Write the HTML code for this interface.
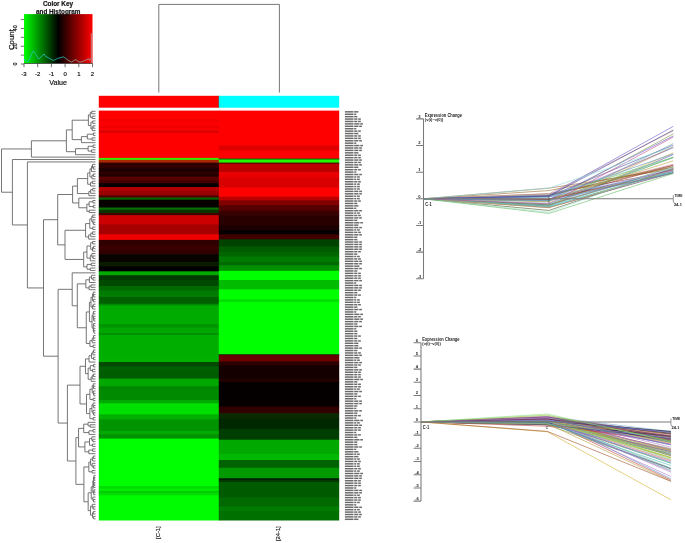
<!DOCTYPE html><html><head><meta charset="utf-8"><style>html,body{margin:0;padding:0;background:#fff;}svg{display:block;filter:blur(0.4px);}</style></head><body><svg width="685" height="543" viewBox="0 0 685 543">
<rect width="685" height="543" fill="#fff"/>
<rect x="98.8" y="95.8" width="120.4" height="11.9" fill="#ff0000"/>
<rect x="218.8" y="95.8" width="120.4" height="11.9" fill="#00ffff"/>
<rect x="218.4" y="95.8" width="0.7" height="11.9" fill="#555" opacity="0.6"/>
<rect x="98.8" y="110.6" width="120.60" height="9.10" fill="#ff0000"/>
<rect x="98.8" y="119" width="120.60" height="2.70" fill="#f20000"/>
<rect x="98.8" y="121" width="120.60" height="5.70" fill="#fb0000"/>
<rect x="98.8" y="126" width="120.60" height="2.70" fill="#ee0000"/>
<rect x="98.8" y="128" width="120.60" height="2.70" fill="#fa0000"/>
<rect x="98.8" y="130.1" width="120.60" height="3.40" fill="#dd0000"/>
<rect x="98.8" y="132.8" width="120.60" height="25.80" fill="#ff0000"/>
<rect x="98.8" y="157.9" width="120.60" height="2.70" fill="#3ce800"/>
<rect x="98.8" y="159.9" width="120.60" height="3.40" fill="#aa2800"/>
<rect x="98.8" y="162.6" width="120.60" height="6.40" fill="#300000"/>
<rect x="98.8" y="168.3" width="120.60" height="4.00" fill="#1a0000"/>
<rect x="98.8" y="171.6" width="120.60" height="2.90" fill="#300000"/>
<rect x="98.8" y="173.8" width="120.60" height="3.50" fill="#200000"/>
<rect x="98.8" y="176.6" width="120.60" height="4.10" fill="#5a0000"/>
<rect x="98.8" y="180" width="120.60" height="3.90" fill="#440000"/>
<rect x="98.8" y="183.2" width="120.60" height="4.50" fill="#070000"/>
<rect x="98.8" y="187" width="120.60" height="4.70" fill="#b00000"/>
<rect x="98.8" y="191" width="120.60" height="5.00" fill="#990000"/>
<rect x="98.8" y="195.3" width="120.60" height="2.90" fill="#500000"/>
<rect x="98.8" y="197.5" width="120.60" height="2.90" fill="#0a6400"/>
<rect x="98.8" y="199.7" width="120.60" height="8.50" fill="#060000"/>
<rect x="98.8" y="207.5" width="120.60" height="2.90" fill="#087000"/>
<rect x="98.8" y="209.7" width="120.60" height="4.00" fill="#0a3300"/>
<rect x="98.8" y="213" width="120.60" height="2.90" fill="#400000"/>
<rect x="98.8" y="215.2" width="120.60" height="9.90" fill="#cc0000"/>
<rect x="98.8" y="224.4" width="120.60" height="10.60" fill="#a60000"/>
<rect x="98.8" y="234.3" width="120.60" height="6.30" fill="#ee0000"/>
<rect x="98.8" y="239.9" width="120.60" height="6.80" fill="#300000"/>
<rect x="98.8" y="246" width="120.60" height="4.70" fill="#3a0000"/>
<rect x="98.8" y="250" width="120.60" height="4.90" fill="#300000"/>
<rect x="98.8" y="254.2" width="120.60" height="8.50" fill="#070400"/>
<rect x="98.8" y="262" width="120.60" height="5.10" fill="#0a1c00"/>
<rect x="98.8" y="266.4" width="120.60" height="5.60" fill="#000000"/>
<rect x="98.8" y="271.3" width="120.60" height="4.60" fill="#00a800"/>
<rect x="98.8" y="275.2" width="120.60" height="5.50" fill="#003a00"/>
<rect x="98.8" y="280" width="120.60" height="6.70" fill="#004a00"/>
<rect x="98.8" y="286" width="120.60" height="5.20" fill="#006a00"/>
<rect x="98.8" y="290.5" width="120.60" height="5.70" fill="#007a00"/>
<rect x="98.8" y="295.5" width="120.60" height="1.80" fill="#008c00"/>
<rect x="98.8" y="296.6" width="120.60" height="7.80" fill="#006000"/>
<rect x="98.8" y="303.7" width="120.60" height="2.40" fill="#008800"/>
<rect x="98.8" y="305.4" width="120.60" height="19.30" fill="#00ab00"/>
<rect x="98.8" y="324" width="120.60" height="4.20" fill="#009400"/>
<rect x="98.8" y="327.5" width="120.60" height="6.20" fill="#00a600"/>
<rect x="98.8" y="333" width="120.60" height="2.70" fill="#009000"/>
<rect x="98.8" y="335" width="120.60" height="19.40" fill="#00ae00"/>
<rect x="98.8" y="353.7" width="120.60" height="9.00" fill="#00b000"/>
<rect x="98.8" y="362" width="120.60" height="5.20" fill="#004a00"/>
<rect x="98.8" y="366.5" width="120.60" height="3.40" fill="#006000"/>
<rect x="98.8" y="369.2" width="120.60" height="10.10" fill="#005c00"/>
<rect x="98.8" y="378.6" width="120.60" height="8.50" fill="#00a800"/>
<rect x="98.8" y="386.4" width="120.60" height="2.90" fill="#008400"/>
<rect x="98.8" y="388.6" width="120.60" height="12.10" fill="#008a00"/>
<rect x="98.8" y="400" width="120.60" height="4.00" fill="#00aa00"/>
<rect x="98.8" y="403.3" width="120.60" height="11.70" fill="#00e000"/>
<rect x="98.8" y="414.3" width="120.60" height="5.70" fill="#00b000"/>
<rect x="98.8" y="419.3" width="120.60" height="12.40" fill="#009400"/>
<rect x="98.8" y="431" width="120.60" height="3.90" fill="#00aa00"/>
<rect x="98.8" y="434.2" width="120.60" height="5.10" fill="#009200"/>
<rect x="98.8" y="438.6" width="120.60" height="48.10" fill="#00ff00"/>
<rect x="98.8" y="486" width="120.60" height="3.40" fill="#00dd00"/>
<rect x="98.8" y="488.7" width="120.60" height="2.90" fill="#00ee00"/>
<rect x="98.8" y="490.9" width="120.60" height="2.90" fill="#00cc00"/>
<rect x="98.8" y="493.1" width="120.60" height="2.90" fill="#00dd00"/>
<rect x="98.8" y="495.3" width="120.60" height="25.20" fill="#00fc00"/>
<rect x="218.8" y="110.6" width="120.40" height="35.60" fill="#ff0000"/>
<rect x="218.8" y="145.5" width="120.40" height="5.70" fill="#e00000"/>
<rect x="218.8" y="150.5" width="120.40" height="8.20" fill="#ff0000"/>
<rect x="218.8" y="158" width="120.40" height="1.50" fill="#aa2200"/>
<rect x="218.8" y="158.8" width="120.40" height="1.40" fill="#006600"/>
<rect x="218.8" y="159.5" width="120.40" height="3.80" fill="#22f800"/>
<rect x="218.8" y="162.6" width="120.40" height="1.70" fill="#400000"/>
<rect x="218.8" y="163.6" width="120.40" height="9.20" fill="#bb0000"/>
<rect x="218.8" y="172.1" width="120.40" height="6.30" fill="#ea0000"/>
<rect x="218.8" y="177.7" width="120.40" height="10.60" fill="#d80000"/>
<rect x="218.8" y="187.6" width="120.40" height="9.70" fill="#ff0000"/>
<rect x="218.8" y="196.6" width="120.40" height="4.40" fill="#bb0000"/>
<rect x="218.8" y="200.3" width="120.40" height="5.70" fill="#800000"/>
<rect x="218.8" y="205.3" width="120.40" height="6.20" fill="#550000"/>
<rect x="218.8" y="210.8" width="120.40" height="5.10" fill="#380000"/>
<rect x="218.8" y="215.2" width="120.40" height="11.00" fill="#280000"/>
<rect x="218.8" y="225.5" width="120.40" height="5.20" fill="#1a0000"/>
<rect x="218.8" y="230" width="120.40" height="5.00" fill="#080000"/>
<rect x="218.8" y="234.3" width="120.40" height="5.70" fill="#400000"/>
<rect x="218.8" y="239.3" width="120.40" height="7.90" fill="#004200"/>
<rect x="218.8" y="246.5" width="120.40" height="6.20" fill="#005a00"/>
<rect x="218.8" y="252" width="120.40" height="5.10" fill="#006600"/>
<rect x="218.8" y="256.4" width="120.40" height="6.30" fill="#007a00"/>
<rect x="218.8" y="262" width="120.40" height="4.00" fill="#006a00"/>
<rect x="218.8" y="265.3" width="120.40" height="6.20" fill="#009000"/>
<rect x="218.8" y="270.8" width="120.40" height="9.90" fill="#00ff00"/>
<rect x="218.8" y="280" width="120.40" height="10.10" fill="#00bb00"/>
<rect x="218.8" y="289.4" width="120.40" height="10.60" fill="#00ff00"/>
<rect x="218.8" y="299.3" width="120.40" height="3.40" fill="#00e000"/>
<rect x="218.8" y="302" width="120.40" height="53.00" fill="#00ff00"/>
<rect x="218.8" y="354.3" width="120.40" height="1.60" fill="#200000"/>
<rect x="218.8" y="355.2" width="120.40" height="7.00" fill="#6a0000"/>
<rect x="218.8" y="361.5" width="120.40" height="4.60" fill="#2a0000"/>
<rect x="218.8" y="365.4" width="120.40" height="13.90" fill="#150000"/>
<rect x="218.8" y="378.6" width="120.40" height="4.10" fill="#220000"/>
<rect x="218.8" y="382" width="120.40" height="18.70" fill="#050000"/>
<rect x="218.8" y="400" width="120.40" height="7.30" fill="#060000"/>
<rect x="218.8" y="406.6" width="120.40" height="7.30" fill="#300000"/>
<rect x="218.8" y="413.2" width="120.40" height="6.30" fill="#0a2a00"/>
<rect x="218.8" y="418.8" width="120.40" height="10.60" fill="#002800"/>
<rect x="218.8" y="428.7" width="120.40" height="11.70" fill="#003d00"/>
<rect x="218.8" y="439.7" width="120.40" height="15.20" fill="#00a800"/>
<rect x="218.8" y="454.2" width="120.40" height="6.50" fill="#00b800"/>
<rect x="218.8" y="460" width="120.40" height="8.40" fill="#006200"/>
<rect x="218.8" y="467.7" width="120.40" height="11.20" fill="#009a00"/>
<rect x="218.8" y="478.2" width="120.40" height="2.50" fill="#002000"/>
<rect x="218.8" y="480" width="120.40" height="2.70" fill="#003800"/>
<rect x="218.8" y="482" width="120.40" height="16.20" fill="#005a00"/>
<rect x="218.8" y="497.5" width="120.40" height="9.60" fill="#006a00"/>
<rect x="218.8" y="506.4" width="120.40" height="5.30" fill="#007a00"/>
<rect x="218.8" y="511" width="120.40" height="9.50" fill="#007000"/>
<path d="M91.67 111.31L95.50 111.31M91.67 113.72L95.50 113.72M91.67 111.31L91.67 113.72M92.28 116.13L95.50 116.13M92.28 118.54L95.50 118.54M92.28 116.13L92.28 118.54M90.28 112.51L91.67 112.51M90.28 117.33L92.28 117.33M90.28 112.51L90.28 117.33M92.69 120.95L95.50 120.95M92.69 123.36L95.50 123.36M92.69 120.95L92.69 123.36M93.08 125.77L95.50 125.77M93.08 128.18L95.50 128.18M93.08 125.77L93.08 128.18M92.24 126.98L93.08 126.98M92.24 130.59L95.50 130.59M92.24 126.98L92.24 130.59M90.93 122.16L92.69 122.16M90.93 128.79L92.24 128.79M90.93 122.16L90.93 128.79M88.40 114.92L90.28 114.92M88.40 125.47L90.93 125.47M88.40 114.92L88.40 125.47M93.32 133.01L95.50 133.01M93.32 135.42L95.50 135.42M93.32 133.01L93.32 135.42M92.02 137.83L95.50 137.83M92.02 140.24L95.50 140.24M92.02 137.83L92.02 140.24M87.30 134.21L93.32 134.21M87.30 139.03L92.02 139.03M87.30 134.21L87.30 139.03M81.40 136.62L87.30 136.62M81.40 142.65L95.50 142.65M81.40 136.62L81.40 142.65M72.20 120.20L88.40 120.20M72.20 139.64L81.40 139.64M72.20 120.20L72.20 139.64M93.00 145.06L95.50 145.06M93.00 147.47L95.50 147.47M93.00 145.06L93.00 147.47M91.44 149.88L95.50 149.88M91.44 152.30L95.50 152.30M91.44 149.88L91.44 152.30M88.10 146.27L93.00 146.27M88.10 151.09L91.44 151.09M88.10 146.27L88.10 151.09M75.50 148.68L88.10 148.68M75.50 154.71L95.50 154.71M75.50 148.68L75.50 154.71M66.40 129.92L72.20 129.92M66.40 151.69L75.50 151.69M66.40 129.92L66.40 151.69M31.40 140.80L66.40 140.80M31.40 157.12L95.50 157.12M31.40 140.80L31.40 157.12M93.41 166.76L95.50 166.76M93.41 169.17L95.50 169.17M93.41 166.76L93.41 169.17M92.52 164.35L95.50 164.35M92.52 167.97L93.41 167.97M92.52 164.35L92.52 167.97M91.48 166.16L92.52 166.16M91.48 171.58L95.50 171.58M91.48 166.16L91.48 171.58M93.35 174.00L95.50 174.00M93.35 176.41L95.50 176.41M93.35 174.00L93.35 176.41M91.95 175.20L93.35 175.20M91.95 178.82L95.50 178.82M91.95 175.20L91.95 178.82M89.91 168.87L91.48 168.87M89.91 177.01L91.95 177.01M89.91 168.87L89.91 177.01M92.40 181.23L95.50 181.23M92.40 183.64L95.50 183.64M92.40 181.23L92.40 183.64M90.53 182.44L92.40 182.44M90.53 186.05L95.50 186.05M90.53 182.44L90.53 186.05M87.68 172.94L89.91 172.94M87.68 184.24L90.53 184.24M87.68 172.94L87.68 184.24M92.72 188.46L95.50 188.46M92.72 190.87L95.50 190.87M92.72 188.46L92.72 190.87M90.63 189.67L92.72 189.67M90.63 193.29L95.50 193.29M90.63 189.67L90.63 193.29M88.87 191.48L90.63 191.48M88.87 195.70L95.50 195.70M88.87 191.48L88.87 195.70M77.40 178.59L87.68 178.59M77.40 193.59L88.87 193.59M77.40 178.59L77.40 193.59M92.83 200.52L95.50 200.52M92.83 202.93L95.50 202.93M92.83 200.52L92.83 202.93M93.32 205.34L95.50 205.34M93.32 207.75L95.50 207.75M93.32 205.34L93.32 207.75M89.14 201.72L92.83 201.72M89.14 206.55L93.32 206.55M89.14 201.72L89.14 206.55M89.19 210.16L95.50 210.16M89.19 212.57L95.50 212.57M89.19 210.16L89.19 212.57M86.85 204.14L89.14 204.14M86.85 211.37L89.19 211.37M86.85 204.14L86.85 211.37M78.80 198.11L95.50 198.11M78.80 207.75L86.85 207.75M78.80 198.11L78.80 207.75M72.60 186.09L77.40 186.09M72.60 202.93L78.80 202.93M72.60 186.09L72.60 202.93M92.78 214.99L95.50 214.99M92.78 217.40L95.50 217.40M92.78 214.99L92.78 217.40M93.56 222.22L95.50 222.22M93.56 224.63L95.50 224.63M93.56 222.22L93.56 224.63M92.92 219.81L95.50 219.81M92.92 223.43L93.56 223.43M92.92 219.81L92.92 223.43M91.78 216.19L92.78 216.19M91.78 221.62L92.92 221.62M91.78 216.19L91.78 221.62M92.69 227.04L95.50 227.04M92.69 229.45L95.50 229.45M92.69 227.04L92.69 229.45M89.76 218.90L91.78 218.90M89.76 228.25L92.69 228.25M89.76 218.90L89.76 228.25M92.52 231.86L95.50 231.86M92.52 234.28L95.50 234.28M92.52 231.86L92.52 234.28M90.80 233.07L92.52 233.07M90.80 236.69L95.50 236.69M90.80 233.07L90.80 236.69M88.65 234.88L90.80 234.88M88.65 239.10L95.50 239.10M88.65 234.88L88.65 239.10M85.58 223.58L89.76 223.58M85.58 236.99L88.65 236.99M85.58 223.58L85.58 236.99M92.60 241.51L95.50 241.51M92.60 243.92L95.50 243.92M92.60 241.51L92.60 243.92M93.47 246.33L95.50 246.33M93.47 248.74L95.50 248.74M93.47 246.33L93.47 248.74M92.53 247.54L93.47 247.54M92.53 251.15L95.50 251.15M92.53 247.54L92.53 251.15M90.67 242.71L92.60 242.71M90.67 249.35L92.53 249.35M90.67 242.71L90.67 249.35M92.92 255.98L95.50 255.98M92.92 258.39L95.50 258.39M92.92 255.98L92.92 258.39M91.92 253.56L95.50 253.56M91.92 257.18L92.92 257.18M91.92 253.56L91.92 257.18M90.30 255.37L91.92 255.37M90.30 260.80L95.50 260.80M90.30 255.37L90.30 260.80M86.95 246.03L90.67 246.03M86.95 258.09L90.30 258.09M86.95 246.03L86.95 258.09M91.25 263.21L95.50 263.21M91.25 265.62L95.50 265.62M91.25 263.21L91.25 265.62M90.28 268.03L95.50 268.03M90.28 270.44L95.50 270.44M90.28 268.03L90.28 270.44M87.01 264.42L91.25 264.42M87.01 269.24L90.28 269.24M87.01 264.42L87.01 269.24M83.66 252.06L86.95 252.06M83.66 266.83L87.01 266.83M83.66 252.06L83.66 266.83M65.00 230.28L85.58 230.28M65.00 259.44L83.66 259.44M65.00 230.28L65.00 259.44M57.70 194.51L72.60 194.51M57.70 244.86L65.00 244.86M57.70 194.51L57.70 244.86M92.95 277.68L95.50 277.68M92.95 280.09L95.50 280.09M92.95 277.68L92.95 280.09M91.48 275.27L95.50 275.27M91.48 278.88L92.95 278.88M91.48 275.27L91.48 278.88M89.39 277.07L91.48 277.07M89.39 282.50L95.50 282.50M89.39 277.07L89.39 282.50M90.96 284.91L95.50 284.91M90.96 287.32L95.50 287.32M90.96 284.91L90.96 287.32M89.05 286.12L90.96 286.12M89.05 289.73L95.50 289.73M89.05 286.12L89.05 289.73M85.84 279.79L89.39 279.79M85.84 287.92L89.05 287.92M85.84 279.79L85.84 287.92M93.62 294.55L95.50 294.55M93.62 296.97L95.50 296.97M93.62 294.55L93.62 296.97M93.25 292.14L95.50 292.14M93.25 295.76L93.62 295.76M93.25 292.14L93.25 295.76M93.40 299.38L95.50 299.38M93.40 301.79L95.50 301.79M93.40 299.38L93.40 301.79M92.47 293.95L93.25 293.95M92.47 300.58L93.40 300.58M92.47 293.95L92.47 300.58M93.29 304.20L95.50 304.20M93.29 306.61L95.50 306.61M93.29 304.20L93.29 306.61M92.52 305.41L93.29 305.41M92.52 309.02L95.50 309.02M92.52 305.41L92.52 309.02M90.99 297.27L92.47 297.27M90.99 307.21L92.52 307.21M90.99 297.27L90.99 307.21M93.58 311.43L95.50 311.43M93.58 313.84L95.50 313.84M93.58 311.43L93.58 313.84M93.81 318.67L95.50 318.67M93.81 321.08L95.50 321.08M93.81 318.67L93.81 321.08M93.69 316.26L95.50 316.26M93.69 319.87L93.81 319.87M93.69 316.26L93.69 319.87M93.00 312.64L93.58 312.64M93.00 318.06L93.69 318.06M93.00 312.64L93.00 318.06M93.64 323.49L95.50 323.49M93.64 325.90L95.50 325.90M93.64 323.49L93.64 325.90M93.52 328.31L95.50 328.31M93.52 330.72L95.50 330.72M93.52 328.31L93.52 330.72M93.86 329.52L93.52 329.52M93.86 333.13L95.50 333.13M93.86 329.52L93.86 333.13M93.25 324.69L93.64 324.69M93.25 331.33L93.86 331.33M93.25 324.69L93.25 331.33M92.00 315.35L93.00 315.35M92.00 328.01L93.25 328.01M92.00 315.35L92.00 328.01M89.42 302.24L90.99 302.24M89.42 321.68L92.00 321.68M89.42 302.24L89.42 321.68M93.59 335.54L95.50 335.54M93.59 337.96L95.50 337.96M93.59 335.54L93.59 337.96M93.18 336.75L93.59 336.75M93.18 340.37L95.50 340.37M93.18 336.75L93.18 340.37M92.16 338.56L93.18 338.56M92.16 342.78L95.50 342.78M92.16 338.56L92.16 342.78M93.07 345.19L95.50 345.19M93.07 347.60L95.50 347.60M93.07 345.19L93.07 347.60M89.90 340.67L92.16 340.67M89.90 346.40L93.07 346.40M89.90 340.67L89.90 346.40M86.27 311.96L89.42 311.96M86.27 343.53L89.90 343.53M86.27 311.96L86.27 343.53M77.30 283.86L85.84 283.86M77.30 327.75L86.27 327.75M77.30 283.86L77.30 327.75M72.20 272.85L95.50 272.85M72.20 305.80L77.30 305.80M72.20 272.85L72.20 305.80M93.53 350.01L95.50 350.01M93.53 352.42L95.50 352.42M93.53 350.01L93.53 352.42M92.90 351.22L93.53 351.22M92.90 354.83L95.50 354.83M92.90 351.22L92.90 354.83M93.46 357.25L95.50 357.25M93.46 359.66L95.50 359.66M93.46 357.25L93.46 359.66M91.57 353.03L92.90 353.03M91.57 358.45L93.46 358.45M91.57 353.03L91.57 358.45M89.02 355.74L91.57 355.74M89.02 362.07L95.50 362.07M89.02 355.74L89.02 362.07M93.47 364.48L95.50 364.48M93.47 366.89L95.50 366.89M93.47 364.48L93.47 366.89M92.50 369.30L95.50 369.30M92.50 371.71L95.50 371.71M92.50 369.30L92.50 371.71M90.27 365.68L93.47 365.68M90.27 370.51L92.50 370.51M90.27 365.68L90.27 370.51M93.41 374.12L95.50 374.12M93.41 376.53L95.50 376.53M93.41 374.12L93.41 376.53M92.28 375.33L93.41 375.33M92.28 378.95L95.50 378.95M92.28 375.33L92.28 378.95M91.11 377.14L92.28 377.14M91.11 381.36L95.50 381.36M91.11 377.14L91.11 381.36M88.15 368.10L90.27 368.10M88.15 379.25L91.11 379.25M88.15 368.10L88.15 379.25M85.48 358.90L89.02 358.90M85.48 373.67L88.15 373.67M85.48 358.90L85.48 373.67M93.60 386.18L95.50 386.18M93.60 388.59L95.50 388.59M93.60 386.18L93.60 388.59M93.29 383.77L95.50 383.77M93.29 387.39L93.60 387.39M93.29 383.77L93.29 387.39M93.85 393.41L95.50 393.41M93.85 395.82L95.50 395.82M93.85 393.41L93.85 395.82M93.38 391.00L95.50 391.00M93.38 394.62L93.85 394.62M93.38 391.00L93.38 394.62M92.23 385.58L93.29 385.58M92.23 392.81L93.38 392.81M92.23 385.58L92.23 392.81M93.08 398.24L95.50 398.24M93.08 400.65L95.50 400.65M93.08 398.24L93.08 400.65M89.92 389.19L92.23 389.19M89.92 399.44L93.08 399.44M89.92 389.19L89.92 399.44M93.65 405.47L95.50 405.47M93.65 407.88L95.50 407.88M93.65 405.47L93.65 407.88M93.04 403.06L95.50 403.06M93.04 406.67L93.65 406.67M93.04 403.06L93.04 406.67M93.58 412.70L95.50 412.70M93.58 415.11L95.50 415.11M93.58 412.70L93.58 415.11M93.03 410.29L95.50 410.29M93.03 413.91L93.58 413.91M93.03 410.29L93.03 413.91M91.91 404.87L93.04 404.87M91.91 412.10L93.03 412.10M91.91 404.87L91.91 412.10M93.11 417.52L95.50 417.52M93.11 419.94L95.50 419.94M93.11 417.52L93.11 419.94M89.88 408.48L91.91 408.48M89.88 418.73L93.11 418.73M89.88 408.48L89.88 418.73M86.51 394.32L89.92 394.32M86.51 413.61L89.88 413.61M86.51 394.32L86.51 413.61M80.00 366.29L85.48 366.29M80.00 403.96L86.51 403.96M80.00 366.29L80.00 403.96M90.15 424.76L95.50 424.76M90.15 427.17L95.50 427.17M90.15 424.76L90.15 427.17M88.07 422.35L95.50 422.35M88.07 425.96L90.15 425.96M88.07 422.35L88.07 425.96M93.00 429.58L95.50 429.58M93.00 431.99L95.50 431.99M93.00 429.58L93.00 431.99M88.98 430.79L93.00 430.79M88.98 434.40L95.50 434.40M88.98 430.79L88.98 434.40M83.73 424.16L88.07 424.16M83.73 432.59L88.98 432.59M83.73 424.16L83.73 432.59M92.87 439.23L95.50 439.23M92.87 441.64L95.50 441.64M92.87 439.23L92.87 441.64M91.82 436.81L95.50 436.81M91.82 440.43L92.87 440.43M91.82 436.81L91.82 440.43M92.55 444.05L95.50 444.05M92.55 446.46L95.50 446.46M92.55 444.05L92.55 446.46M89.51 438.62L91.82 438.62M89.51 445.25L92.55 445.25M89.51 438.62L89.51 445.25M92.54 448.87L95.50 448.87M92.54 451.28L95.50 451.28M92.54 448.87L92.54 451.28M88.79 450.08L92.54 450.08M88.79 453.69L95.50 453.69M88.79 450.08L88.79 453.69M84.88 441.94L89.51 441.94M84.88 451.88L88.79 451.88M84.88 441.94L84.88 451.88M78.55 428.38L83.73 428.38M78.55 446.91L84.88 446.91M78.55 428.38L78.55 446.91M93.36 456.10L95.50 456.10M93.36 458.51L95.50 458.51M93.36 456.10L93.36 458.51M92.40 457.31L93.36 457.31M92.40 460.93L95.50 460.93M92.40 457.31L92.40 460.93M93.34 465.75L95.50 465.75M93.34 468.16L95.50 468.16M93.34 465.75L93.34 468.16M92.15 463.34L95.50 463.34M92.15 466.95L93.34 466.95M92.15 463.34L92.15 466.95M90.58 459.12L92.40 459.12M90.58 465.15L92.15 465.15M90.58 459.12L90.58 465.15M92.03 470.57L95.50 470.57M92.03 472.98L95.50 472.98M92.03 470.57L92.03 472.98M88.85 462.13L90.58 462.13M88.85 471.78L92.03 471.78M88.85 462.13L88.85 471.78M94.01 477.80L95.50 477.80M94.01 480.22L95.50 480.22M94.01 477.80L94.01 480.22M94.01 475.39L95.50 475.39M94.01 479.01L94.01 479.01M94.01 475.39L94.01 479.01M93.59 485.04L95.50 485.04M93.59 487.45L95.50 487.45M93.59 485.04L93.59 487.45M94.01 482.63L95.50 482.63M94.01 486.24L93.59 486.24M94.01 482.63L94.01 486.24M93.52 477.20L94.01 477.20M93.52 484.44L94.01 484.44M93.52 477.20L93.52 484.44M94.03 489.86L95.50 489.86M94.03 492.27L95.50 492.27M94.03 489.86L94.03 492.27M93.66 491.07L94.03 491.07M93.66 494.68L95.50 494.68M93.66 491.07L93.66 494.68M92.83 480.82L93.52 480.82M92.83 492.87L93.66 492.87M92.83 480.82L92.83 492.87M93.51 499.50L95.50 499.50M93.51 501.92L95.50 501.92M93.51 499.50L93.51 501.92M92.87 497.09L95.50 497.09M92.87 500.71L93.51 500.71M92.87 497.09L92.87 500.71M91.22 486.85L92.83 486.85M91.22 498.90L92.87 498.90M91.22 486.85L91.22 498.90M93.17 506.74L95.50 506.74M93.17 509.15L95.50 509.15M93.17 506.74L93.17 509.15M92.31 504.33L95.50 504.33M92.31 507.94L93.17 507.94M92.31 504.33L92.31 507.94M93.33 511.56L95.50 511.56M93.33 513.97L95.50 513.97M93.33 511.56L93.33 513.97M93.31 516.38L95.50 516.38M93.31 518.79L95.50 518.79M93.31 516.38L93.31 518.79M92.56 512.77L93.33 512.77M92.56 517.59L93.31 517.59M92.56 512.77L92.56 517.59M90.55 506.14L92.31 506.14M90.55 515.18L92.56 515.18M90.55 506.14L90.55 515.18M88.16 492.87L91.22 492.87M88.16 510.66L90.55 510.66M88.16 492.87L88.16 510.66M83.90 466.95L88.85 466.95M83.90 501.77L88.16 501.77M83.90 466.95L83.90 501.77M75.90 437.64L78.55 437.64M75.90 484.36L83.90 484.36M75.90 437.64L75.90 484.36M67.40 385.12L80.00 385.12M67.40 461.00L75.90 461.00M67.40 385.12L67.40 461.00M58.10 289.33L72.20 289.33M58.10 423.06L67.40 423.06M58.10 289.33L58.10 423.06M43.50 219.69L57.70 219.69M43.50 356.20L58.10 356.20M43.50 219.69L43.50 356.20M27.40 161.94L95.50 161.94M27.40 287.94L43.50 287.94M27.40 161.94L27.40 287.94M12.40 159.53L95.50 159.53M12.40 224.94L27.40 224.94M12.40 159.53L12.40 224.94M1.50 148.96L31.40 148.96M1.50 192.23L12.40 192.23M1.50 148.96L1.50 192.23" stroke="#666" stroke-width="0.9" fill="none"/>
<path d="M158.8 92.6V4.4H279.4V92.6" stroke="#777" stroke-width="1" fill="none"/>
<g fill="#6a6a6a">
<rect x="344.9" y="111.11" width="8.6" height="1.45"/>
<rect x="354.20" y="111.11" width="4.20" height="1.45"/>
<rect x="344.9" y="113.52" width="8.6" height="1.45"/>
<rect x="354.20" y="113.52" width="2.10" height="1.45"/>
<rect x="344.9" y="115.93" width="8.6" height="1.45"/>
<rect x="354.20" y="115.93" width="3.15" height="1.45"/>
<rect x="344.9" y="118.34" width="8.6" height="1.45"/>
<rect x="354.20" y="118.34" width="3.15" height="1.45"/>
<rect x="358.15" y="118.34" width="2.7" height="1.45"/>
<rect x="344.9" y="120.75" width="8.6" height="1.45"/>
<rect x="354.20" y="120.75" width="3.15" height="1.45"/>
<rect x="358.15" y="120.75" width="2.7" height="1.45"/>
<rect x="344.9" y="123.16" width="8.6" height="1.45"/>
<rect x="354.20" y="123.16" width="5.25" height="1.45"/>
<rect x="360.25" y="123.16" width="2.7" height="1.45"/>
<rect x="344.9" y="125.57" width="8.6" height="1.45"/>
<rect x="354.20" y="125.57" width="4.20" height="1.45"/>
<rect x="359.20" y="125.57" width="2.7" height="1.45"/>
<rect x="344.9" y="127.98" width="8.6" height="1.45"/>
<rect x="354.20" y="127.98" width="2.10" height="1.45"/>
<rect x="344.9" y="130.40" width="8.6" height="1.45"/>
<rect x="354.20" y="130.40" width="3.15" height="1.45"/>
<rect x="358.15" y="130.40" width="2.7" height="1.45"/>
<rect x="344.9" y="132.81" width="8.6" height="1.45"/>
<rect x="354.20" y="132.81" width="4.20" height="1.45"/>
<rect x="344.9" y="135.22" width="8.6" height="1.45"/>
<rect x="354.20" y="135.22" width="3.15" height="1.45"/>
<rect x="358.15" y="135.22" width="2.7" height="1.45"/>
<rect x="344.9" y="137.63" width="8.6" height="1.45"/>
<rect x="354.20" y="137.63" width="3.15" height="1.45"/>
<rect x="358.15" y="137.63" width="2.7" height="1.45"/>
<rect x="344.9" y="140.04" width="8.6" height="1.45"/>
<rect x="354.20" y="140.04" width="4.20" height="1.45"/>
<rect x="359.20" y="140.04" width="2.7" height="1.45"/>
<rect x="344.9" y="142.45" width="8.6" height="1.45"/>
<rect x="354.20" y="142.45" width="2.10" height="1.45"/>
<rect x="344.9" y="144.86" width="8.6" height="1.45"/>
<rect x="354.20" y="144.86" width="5.25" height="1.45"/>
<rect x="360.25" y="144.86" width="2.7" height="1.45"/>
<rect x="344.9" y="147.27" width="8.6" height="1.45"/>
<rect x="354.20" y="147.27" width="4.20" height="1.45"/>
<rect x="359.20" y="147.27" width="2.7" height="1.45"/>
<rect x="344.9" y="149.68" width="8.6" height="1.45"/>
<rect x="354.20" y="149.68" width="4.20" height="1.45"/>
<rect x="359.20" y="149.68" width="2.7" height="1.45"/>
<rect x="344.9" y="152.10" width="8.6" height="1.45"/>
<rect x="354.20" y="152.10" width="4.20" height="1.45"/>
<rect x="344.9" y="154.51" width="8.6" height="1.45"/>
<rect x="354.20" y="154.51" width="3.15" height="1.45"/>
<rect x="358.15" y="154.51" width="2.7" height="1.45"/>
<rect x="344.9" y="156.92" width="8.6" height="1.45"/>
<rect x="354.20" y="156.92" width="3.15" height="1.45"/>
<rect x="358.15" y="156.92" width="2.7" height="1.45"/>
<rect x="344.9" y="159.33" width="8.6" height="1.45"/>
<rect x="354.20" y="159.33" width="4.20" height="1.45"/>
<rect x="359.20" y="159.33" width="2.7" height="1.45"/>
<rect x="344.9" y="161.74" width="8.6" height="1.45"/>
<rect x="354.20" y="161.74" width="3.15" height="1.45"/>
<rect x="358.15" y="161.74" width="2.7" height="1.45"/>
<rect x="344.9" y="164.15" width="8.6" height="1.45"/>
<rect x="354.20" y="164.15" width="4.20" height="1.45"/>
<rect x="359.20" y="164.15" width="2.7" height="1.45"/>
<rect x="344.9" y="166.56" width="8.6" height="1.45"/>
<rect x="354.20" y="166.56" width="4.20" height="1.45"/>
<rect x="344.9" y="168.97" width="8.6" height="1.45"/>
<rect x="354.20" y="168.97" width="3.15" height="1.45"/>
<rect x="358.15" y="168.97" width="2.7" height="1.45"/>
<rect x="344.9" y="171.38" width="8.6" height="1.45"/>
<rect x="354.20" y="171.38" width="2.10" height="1.45"/>
<rect x="344.9" y="173.80" width="8.6" height="1.45"/>
<rect x="354.20" y="173.80" width="4.20" height="1.45"/>
<rect x="359.20" y="173.80" width="2.7" height="1.45"/>
<rect x="344.9" y="176.21" width="8.6" height="1.45"/>
<rect x="354.20" y="176.21" width="2.10" height="1.45"/>
<rect x="357.10" y="176.21" width="2.7" height="1.45"/>
<rect x="344.9" y="178.62" width="8.6" height="1.45"/>
<rect x="354.20" y="178.62" width="2.10" height="1.45"/>
<rect x="357.10" y="178.62" width="2.7" height="1.45"/>
<rect x="344.9" y="181.03" width="8.6" height="1.45"/>
<rect x="354.20" y="181.03" width="3.15" height="1.45"/>
<rect x="358.15" y="181.03" width="2.7" height="1.45"/>
<rect x="344.9" y="183.44" width="8.6" height="1.45"/>
<rect x="354.20" y="183.44" width="2.10" height="1.45"/>
<rect x="357.10" y="183.44" width="2.7" height="1.45"/>
<rect x="344.9" y="185.85" width="8.6" height="1.45"/>
<rect x="354.20" y="185.85" width="2.10" height="1.45"/>
<rect x="357.10" y="185.85" width="2.7" height="1.45"/>
<rect x="344.9" y="188.26" width="8.6" height="1.45"/>
<rect x="354.20" y="188.26" width="2.10" height="1.45"/>
<rect x="357.10" y="188.26" width="2.7" height="1.45"/>
<rect x="344.9" y="190.67" width="8.6" height="1.45"/>
<rect x="354.20" y="190.67" width="4.20" height="1.45"/>
<rect x="359.20" y="190.67" width="2.7" height="1.45"/>
<rect x="344.9" y="193.09" width="8.6" height="1.45"/>
<rect x="354.20" y="193.09" width="4.20" height="1.45"/>
<rect x="359.20" y="193.09" width="2.7" height="1.45"/>
<rect x="344.9" y="195.50" width="8.6" height="1.45"/>
<rect x="354.20" y="195.50" width="2.10" height="1.45"/>
<rect x="357.10" y="195.50" width="2.7" height="1.45"/>
<rect x="344.9" y="197.91" width="8.6" height="1.45"/>
<rect x="354.20" y="197.91" width="2.10" height="1.45"/>
<rect x="357.10" y="197.91" width="2.7" height="1.45"/>
<rect x="344.9" y="200.32" width="8.6" height="1.45"/>
<rect x="354.20" y="200.32" width="3.15" height="1.45"/>
<rect x="358.15" y="200.32" width="2.7" height="1.45"/>
<rect x="344.9" y="202.73" width="8.6" height="1.45"/>
<rect x="354.20" y="202.73" width="3.15" height="1.45"/>
<rect x="344.9" y="205.14" width="8.6" height="1.45"/>
<rect x="354.20" y="205.14" width="4.20" height="1.45"/>
<rect x="344.9" y="207.55" width="8.6" height="1.45"/>
<rect x="354.20" y="207.55" width="2.10" height="1.45"/>
<rect x="344.9" y="209.96" width="8.6" height="1.45"/>
<rect x="354.20" y="209.96" width="4.20" height="1.45"/>
<rect x="359.20" y="209.96" width="2.7" height="1.45"/>
<rect x="344.9" y="212.38" width="8.6" height="1.45"/>
<rect x="354.20" y="212.38" width="2.10" height="1.45"/>
<rect x="357.10" y="212.38" width="2.7" height="1.45"/>
<rect x="344.9" y="214.79" width="8.6" height="1.45"/>
<rect x="354.20" y="214.79" width="3.15" height="1.45"/>
<rect x="358.15" y="214.79" width="2.7" height="1.45"/>
<rect x="344.9" y="217.20" width="8.6" height="1.45"/>
<rect x="354.20" y="217.20" width="4.20" height="1.45"/>
<rect x="359.20" y="217.20" width="2.7" height="1.45"/>
<rect x="344.9" y="219.61" width="8.6" height="1.45"/>
<rect x="354.20" y="219.61" width="3.15" height="1.45"/>
<rect x="344.9" y="222.02" width="8.6" height="1.45"/>
<rect x="354.20" y="222.02" width="5.25" height="1.45"/>
<rect x="360.25" y="222.02" width="2.7" height="1.45"/>
<rect x="344.9" y="224.43" width="8.6" height="1.45"/>
<rect x="354.20" y="224.43" width="4.20" height="1.45"/>
<rect x="344.9" y="226.84" width="8.6" height="1.45"/>
<rect x="354.20" y="226.84" width="4.20" height="1.45"/>
<rect x="359.20" y="226.84" width="2.7" height="1.45"/>
<rect x="344.9" y="229.25" width="8.6" height="1.45"/>
<rect x="354.20" y="229.25" width="2.10" height="1.45"/>
<rect x="357.10" y="229.25" width="2.7" height="1.45"/>
<rect x="344.9" y="231.66" width="8.6" height="1.45"/>
<rect x="354.20" y="231.66" width="3.15" height="1.45"/>
<rect x="358.15" y="231.66" width="2.7" height="1.45"/>
<rect x="344.9" y="234.08" width="8.6" height="1.45"/>
<rect x="354.20" y="234.08" width="4.20" height="1.45"/>
<rect x="359.20" y="234.08" width="2.7" height="1.45"/>
<rect x="344.9" y="236.49" width="8.6" height="1.45"/>
<rect x="354.20" y="236.49" width="3.15" height="1.45"/>
<rect x="344.9" y="238.90" width="8.6" height="1.45"/>
<rect x="354.20" y="238.90" width="3.15" height="1.45"/>
<rect x="344.9" y="241.31" width="8.6" height="1.45"/>
<rect x="354.20" y="241.31" width="4.20" height="1.45"/>
<rect x="359.20" y="241.31" width="2.7" height="1.45"/>
<rect x="344.9" y="243.72" width="8.6" height="1.45"/>
<rect x="354.20" y="243.72" width="4.20" height="1.45"/>
<rect x="359.20" y="243.72" width="2.7" height="1.45"/>
<rect x="344.9" y="246.13" width="8.6" height="1.45"/>
<rect x="354.20" y="246.13" width="4.20" height="1.45"/>
<rect x="359.20" y="246.13" width="2.7" height="1.45"/>
<rect x="344.9" y="248.54" width="8.6" height="1.45"/>
<rect x="354.20" y="248.54" width="4.20" height="1.45"/>
<rect x="359.20" y="248.54" width="2.7" height="1.45"/>
<rect x="344.9" y="250.95" width="8.6" height="1.45"/>
<rect x="354.20" y="250.95" width="3.15" height="1.45"/>
<rect x="358.15" y="250.95" width="2.7" height="1.45"/>
<rect x="344.9" y="253.37" width="8.6" height="1.45"/>
<rect x="354.20" y="253.37" width="3.15" height="1.45"/>
<rect x="344.9" y="255.78" width="8.6" height="1.45"/>
<rect x="354.20" y="255.78" width="2.10" height="1.45"/>
<rect x="357.10" y="255.78" width="2.7" height="1.45"/>
<rect x="344.9" y="258.19" width="8.6" height="1.45"/>
<rect x="354.20" y="258.19" width="3.15" height="1.45"/>
<rect x="358.15" y="258.19" width="2.7" height="1.45"/>
<rect x="344.9" y="260.60" width="8.6" height="1.45"/>
<rect x="354.20" y="260.60" width="4.20" height="1.45"/>
<rect x="359.20" y="260.60" width="2.7" height="1.45"/>
<rect x="344.9" y="263.01" width="8.6" height="1.45"/>
<rect x="354.20" y="263.01" width="4.20" height="1.45"/>
<rect x="359.20" y="263.01" width="2.7" height="1.45"/>
<rect x="344.9" y="265.42" width="8.6" height="1.45"/>
<rect x="354.20" y="265.42" width="5.25" height="1.45"/>
<rect x="344.9" y="267.83" width="8.6" height="1.45"/>
<rect x="354.20" y="267.83" width="4.20" height="1.45"/>
<rect x="359.20" y="267.83" width="2.7" height="1.45"/>
<rect x="344.9" y="270.24" width="8.6" height="1.45"/>
<rect x="354.20" y="270.24" width="3.15" height="1.45"/>
<rect x="344.9" y="272.65" width="8.6" height="1.45"/>
<rect x="354.20" y="272.65" width="3.15" height="1.45"/>
<rect x="358.15" y="272.65" width="2.7" height="1.45"/>
<rect x="344.9" y="275.07" width="8.6" height="1.45"/>
<rect x="354.20" y="275.07" width="3.15" height="1.45"/>
<rect x="358.15" y="275.07" width="2.7" height="1.45"/>
<rect x="344.9" y="277.48" width="8.6" height="1.45"/>
<rect x="354.20" y="277.48" width="3.15" height="1.45"/>
<rect x="358.15" y="277.48" width="2.7" height="1.45"/>
<rect x="344.9" y="279.89" width="8.6" height="1.45"/>
<rect x="354.20" y="279.89" width="4.20" height="1.45"/>
<rect x="359.20" y="279.89" width="2.7" height="1.45"/>
<rect x="344.9" y="282.30" width="8.6" height="1.45"/>
<rect x="354.20" y="282.30" width="2.10" height="1.45"/>
<rect x="344.9" y="284.71" width="8.6" height="1.45"/>
<rect x="354.20" y="284.71" width="4.20" height="1.45"/>
<rect x="359.20" y="284.71" width="2.7" height="1.45"/>
<rect x="344.9" y="287.12" width="8.6" height="1.45"/>
<rect x="354.20" y="287.12" width="4.20" height="1.45"/>
<rect x="359.20" y="287.12" width="2.7" height="1.45"/>
<rect x="344.9" y="289.53" width="8.6" height="1.45"/>
<rect x="354.20" y="289.53" width="3.15" height="1.45"/>
<rect x="358.15" y="289.53" width="2.7" height="1.45"/>
<rect x="344.9" y="291.94" width="8.6" height="1.45"/>
<rect x="354.20" y="291.94" width="3.15" height="1.45"/>
<rect x="344.9" y="294.35" width="8.6" height="1.45"/>
<rect x="354.20" y="294.35" width="3.15" height="1.45"/>
<rect x="358.15" y="294.35" width="2.7" height="1.45"/>
<rect x="344.9" y="296.77" width="8.6" height="1.45"/>
<rect x="354.20" y="296.77" width="2.10" height="1.45"/>
<rect x="344.9" y="299.18" width="8.6" height="1.45"/>
<rect x="354.20" y="299.18" width="2.10" height="1.45"/>
<rect x="357.10" y="299.18" width="2.7" height="1.45"/>
<rect x="344.9" y="301.59" width="8.6" height="1.45"/>
<rect x="354.20" y="301.59" width="2.10" height="1.45"/>
<rect x="357.10" y="301.59" width="2.7" height="1.45"/>
<rect x="344.9" y="304.00" width="8.6" height="1.45"/>
<rect x="354.20" y="304.00" width="3.15" height="1.45"/>
<rect x="358.15" y="304.00" width="2.7" height="1.45"/>
<rect x="344.9" y="306.41" width="8.6" height="1.45"/>
<rect x="354.20" y="306.41" width="3.15" height="1.45"/>
<rect x="344.9" y="308.82" width="8.6" height="1.45"/>
<rect x="354.20" y="308.82" width="4.20" height="1.45"/>
<rect x="359.20" y="308.82" width="2.7" height="1.45"/>
<rect x="344.9" y="311.23" width="8.6" height="1.45"/>
<rect x="354.20" y="311.23" width="2.10" height="1.45"/>
<rect x="344.9" y="313.64" width="8.6" height="1.45"/>
<rect x="354.20" y="313.64" width="5.25" height="1.45"/>
<rect x="360.25" y="313.64" width="2.7" height="1.45"/>
<rect x="344.9" y="316.06" width="8.6" height="1.45"/>
<rect x="354.20" y="316.06" width="3.15" height="1.45"/>
<rect x="358.15" y="316.06" width="2.7" height="1.45"/>
<rect x="344.9" y="318.47" width="8.6" height="1.45"/>
<rect x="354.20" y="318.47" width="5.25" height="1.45"/>
<rect x="360.25" y="318.47" width="2.7" height="1.45"/>
<rect x="344.9" y="320.88" width="8.6" height="1.45"/>
<rect x="354.20" y="320.88" width="4.20" height="1.45"/>
<rect x="359.20" y="320.88" width="2.7" height="1.45"/>
<rect x="344.9" y="323.29" width="8.6" height="1.45"/>
<rect x="354.20" y="323.29" width="3.15" height="1.45"/>
<rect x="344.9" y="325.70" width="8.6" height="1.45"/>
<rect x="354.20" y="325.70" width="4.20" height="1.45"/>
<rect x="359.20" y="325.70" width="2.7" height="1.45"/>
<rect x="344.9" y="328.11" width="8.6" height="1.45"/>
<rect x="354.20" y="328.11" width="2.10" height="1.45"/>
<rect x="344.9" y="330.52" width="8.6" height="1.45"/>
<rect x="354.20" y="330.52" width="3.15" height="1.45"/>
<rect x="344.9" y="332.93" width="8.6" height="1.45"/>
<rect x="354.20" y="332.93" width="3.15" height="1.45"/>
<rect x="344.9" y="335.34" width="8.6" height="1.45"/>
<rect x="354.20" y="335.34" width="3.15" height="1.45"/>
<rect x="358.15" y="335.34" width="2.7" height="1.45"/>
<rect x="344.9" y="337.76" width="8.6" height="1.45"/>
<rect x="354.20" y="337.76" width="3.15" height="1.45"/>
<rect x="344.9" y="340.17" width="8.6" height="1.45"/>
<rect x="354.20" y="340.17" width="3.15" height="1.45"/>
<rect x="358.15" y="340.17" width="2.7" height="1.45"/>
<rect x="344.9" y="342.58" width="8.6" height="1.45"/>
<rect x="354.20" y="342.58" width="4.20" height="1.45"/>
<rect x="344.9" y="344.99" width="8.6" height="1.45"/>
<rect x="354.20" y="344.99" width="4.20" height="1.45"/>
<rect x="344.9" y="347.40" width="8.6" height="1.45"/>
<rect x="354.20" y="347.40" width="4.20" height="1.45"/>
<rect x="359.20" y="347.40" width="2.7" height="1.45"/>
<rect x="344.9" y="349.81" width="8.6" height="1.45"/>
<rect x="354.20" y="349.81" width="3.15" height="1.45"/>
<rect x="344.9" y="352.22" width="8.6" height="1.45"/>
<rect x="354.20" y="352.22" width="3.15" height="1.45"/>
<rect x="358.15" y="352.22" width="2.7" height="1.45"/>
<rect x="344.9" y="354.63" width="8.6" height="1.45"/>
<rect x="354.20" y="354.63" width="4.20" height="1.45"/>
<rect x="359.20" y="354.63" width="2.7" height="1.45"/>
<rect x="344.9" y="357.05" width="8.6" height="1.45"/>
<rect x="354.20" y="357.05" width="5.25" height="1.45"/>
<rect x="344.9" y="359.46" width="8.6" height="1.45"/>
<rect x="354.20" y="359.46" width="2.10" height="1.45"/>
<rect x="357.10" y="359.46" width="2.7" height="1.45"/>
<rect x="344.9" y="361.87" width="8.6" height="1.45"/>
<rect x="354.20" y="361.87" width="4.20" height="1.45"/>
<rect x="359.20" y="361.87" width="2.7" height="1.45"/>
<rect x="344.9" y="364.28" width="8.6" height="1.45"/>
<rect x="354.20" y="364.28" width="3.15" height="1.45"/>
<rect x="358.15" y="364.28" width="2.7" height="1.45"/>
<rect x="344.9" y="366.69" width="8.6" height="1.45"/>
<rect x="354.20" y="366.69" width="3.15" height="1.45"/>
<rect x="344.9" y="369.10" width="8.6" height="1.45"/>
<rect x="354.20" y="369.10" width="4.20" height="1.45"/>
<rect x="359.20" y="369.10" width="2.7" height="1.45"/>
<rect x="344.9" y="371.51" width="8.6" height="1.45"/>
<rect x="354.20" y="371.51" width="3.15" height="1.45"/>
<rect x="358.15" y="371.51" width="2.7" height="1.45"/>
<rect x="344.9" y="373.92" width="8.6" height="1.45"/>
<rect x="354.20" y="373.92" width="3.15" height="1.45"/>
<rect x="358.15" y="373.92" width="2.7" height="1.45"/>
<rect x="344.9" y="376.33" width="8.6" height="1.45"/>
<rect x="354.20" y="376.33" width="3.15" height="1.45"/>
<rect x="358.15" y="376.33" width="2.7" height="1.45"/>
<rect x="344.9" y="378.75" width="8.6" height="1.45"/>
<rect x="354.20" y="378.75" width="5.25" height="1.45"/>
<rect x="360.25" y="378.75" width="2.7" height="1.45"/>
<rect x="344.9" y="381.16" width="8.6" height="1.45"/>
<rect x="354.20" y="381.16" width="3.15" height="1.45"/>
<rect x="344.9" y="383.57" width="8.6" height="1.45"/>
<rect x="354.20" y="383.57" width="3.15" height="1.45"/>
<rect x="358.15" y="383.57" width="2.7" height="1.45"/>
<rect x="344.9" y="385.98" width="8.6" height="1.45"/>
<rect x="354.20" y="385.98" width="3.15" height="1.45"/>
<rect x="358.15" y="385.98" width="2.7" height="1.45"/>
<rect x="344.9" y="388.39" width="8.6" height="1.45"/>
<rect x="354.20" y="388.39" width="2.10" height="1.45"/>
<rect x="357.10" y="388.39" width="2.7" height="1.45"/>
<rect x="344.9" y="390.80" width="8.6" height="1.45"/>
<rect x="354.20" y="390.80" width="4.20" height="1.45"/>
<rect x="359.20" y="390.80" width="2.7" height="1.45"/>
<rect x="344.9" y="393.21" width="8.6" height="1.45"/>
<rect x="354.20" y="393.21" width="3.15" height="1.45"/>
<rect x="344.9" y="395.62" width="8.6" height="1.45"/>
<rect x="354.20" y="395.62" width="3.15" height="1.45"/>
<rect x="358.15" y="395.62" width="2.7" height="1.45"/>
<rect x="344.9" y="398.04" width="8.6" height="1.45"/>
<rect x="354.20" y="398.04" width="2.10" height="1.45"/>
<rect x="344.9" y="400.45" width="8.6" height="1.45"/>
<rect x="354.20" y="400.45" width="4.20" height="1.45"/>
<rect x="359.20" y="400.45" width="2.7" height="1.45"/>
<rect x="344.9" y="402.86" width="8.6" height="1.45"/>
<rect x="354.20" y="402.86" width="4.20" height="1.45"/>
<rect x="359.20" y="402.86" width="2.7" height="1.45"/>
<rect x="344.9" y="405.27" width="8.6" height="1.45"/>
<rect x="354.20" y="405.27" width="3.15" height="1.45"/>
<rect x="344.9" y="407.68" width="8.6" height="1.45"/>
<rect x="354.20" y="407.68" width="2.10" height="1.45"/>
<rect x="344.9" y="410.09" width="8.6" height="1.45"/>
<rect x="354.20" y="410.09" width="4.20" height="1.45"/>
<rect x="359.20" y="410.09" width="2.7" height="1.45"/>
<rect x="344.9" y="412.50" width="8.6" height="1.45"/>
<rect x="354.20" y="412.50" width="3.15" height="1.45"/>
<rect x="344.9" y="414.91" width="8.6" height="1.45"/>
<rect x="354.20" y="414.91" width="3.15" height="1.45"/>
<rect x="358.15" y="414.91" width="2.7" height="1.45"/>
<rect x="344.9" y="417.32" width="8.6" height="1.45"/>
<rect x="354.20" y="417.32" width="2.10" height="1.45"/>
<rect x="344.9" y="419.74" width="8.6" height="1.45"/>
<rect x="354.20" y="419.74" width="5.25" height="1.45"/>
<rect x="360.25" y="419.74" width="2.7" height="1.45"/>
<rect x="344.9" y="422.15" width="8.6" height="1.45"/>
<rect x="354.20" y="422.15" width="2.10" height="1.45"/>
<rect x="357.10" y="422.15" width="2.7" height="1.45"/>
<rect x="344.9" y="424.56" width="8.6" height="1.45"/>
<rect x="354.20" y="424.56" width="4.20" height="1.45"/>
<rect x="359.20" y="424.56" width="2.7" height="1.45"/>
<rect x="344.9" y="426.97" width="8.6" height="1.45"/>
<rect x="354.20" y="426.97" width="3.15" height="1.45"/>
<rect x="358.15" y="426.97" width="2.7" height="1.45"/>
<rect x="344.9" y="429.38" width="8.6" height="1.45"/>
<rect x="354.20" y="429.38" width="3.15" height="1.45"/>
<rect x="358.15" y="429.38" width="2.7" height="1.45"/>
<rect x="344.9" y="431.79" width="8.6" height="1.45"/>
<rect x="354.20" y="431.79" width="2.10" height="1.45"/>
<rect x="344.9" y="434.20" width="8.6" height="1.45"/>
<rect x="354.20" y="434.20" width="3.15" height="1.45"/>
<rect x="358.15" y="434.20" width="2.7" height="1.45"/>
<rect x="344.9" y="436.61" width="8.6" height="1.45"/>
<rect x="354.20" y="436.61" width="3.15" height="1.45"/>
<rect x="344.9" y="439.03" width="8.6" height="1.45"/>
<rect x="354.20" y="439.03" width="5.25" height="1.45"/>
<rect x="360.25" y="439.03" width="2.7" height="1.45"/>
<rect x="344.9" y="441.44" width="8.6" height="1.45"/>
<rect x="354.20" y="441.44" width="3.15" height="1.45"/>
<rect x="344.9" y="443.85" width="8.6" height="1.45"/>
<rect x="354.20" y="443.85" width="3.15" height="1.45"/>
<rect x="344.9" y="446.26" width="8.6" height="1.45"/>
<rect x="354.20" y="446.26" width="4.20" height="1.45"/>
<rect x="359.20" y="446.26" width="2.7" height="1.45"/>
<rect x="344.9" y="448.67" width="8.6" height="1.45"/>
<rect x="354.20" y="448.67" width="2.10" height="1.45"/>
<rect x="344.9" y="451.08" width="8.6" height="1.45"/>
<rect x="354.20" y="451.08" width="4.20" height="1.45"/>
<rect x="344.9" y="453.49" width="8.6" height="1.45"/>
<rect x="354.20" y="453.49" width="2.10" height="1.45"/>
<rect x="357.10" y="453.49" width="2.7" height="1.45"/>
<rect x="344.9" y="455.90" width="8.6" height="1.45"/>
<rect x="354.20" y="455.90" width="4.20" height="1.45"/>
<rect x="344.9" y="458.31" width="8.6" height="1.45"/>
<rect x="354.20" y="458.31" width="2.10" height="1.45"/>
<rect x="357.10" y="458.31" width="2.7" height="1.45"/>
<rect x="344.9" y="460.73" width="8.6" height="1.45"/>
<rect x="354.20" y="460.73" width="3.15" height="1.45"/>
<rect x="358.15" y="460.73" width="2.7" height="1.45"/>
<rect x="344.9" y="463.14" width="8.6" height="1.45"/>
<rect x="354.20" y="463.14" width="2.10" height="1.45"/>
<rect x="357.10" y="463.14" width="2.7" height="1.45"/>
<rect x="344.9" y="465.55" width="8.6" height="1.45"/>
<rect x="354.20" y="465.55" width="2.10" height="1.45"/>
<rect x="357.10" y="465.55" width="2.7" height="1.45"/>
<rect x="344.9" y="467.96" width="8.6" height="1.45"/>
<rect x="354.20" y="467.96" width="3.15" height="1.45"/>
<rect x="358.15" y="467.96" width="2.7" height="1.45"/>
<rect x="344.9" y="470.37" width="8.6" height="1.45"/>
<rect x="354.20" y="470.37" width="2.10" height="1.45"/>
<rect x="357.10" y="470.37" width="2.7" height="1.45"/>
<rect x="344.9" y="472.78" width="8.6" height="1.45"/>
<rect x="354.20" y="472.78" width="5.25" height="1.45"/>
<rect x="360.25" y="472.78" width="2.7" height="1.45"/>
<rect x="344.9" y="475.19" width="8.6" height="1.45"/>
<rect x="354.20" y="475.19" width="4.20" height="1.45"/>
<rect x="359.20" y="475.19" width="2.7" height="1.45"/>
<rect x="344.9" y="477.60" width="8.6" height="1.45"/>
<rect x="354.20" y="477.60" width="4.20" height="1.45"/>
<rect x="359.20" y="477.60" width="2.7" height="1.45"/>
<rect x="344.9" y="480.02" width="8.6" height="1.45"/>
<rect x="354.20" y="480.02" width="3.15" height="1.45"/>
<rect x="358.15" y="480.02" width="2.7" height="1.45"/>
<rect x="344.9" y="482.43" width="8.6" height="1.45"/>
<rect x="354.20" y="482.43" width="3.15" height="1.45"/>
<rect x="358.15" y="482.43" width="2.7" height="1.45"/>
<rect x="344.9" y="484.84" width="8.6" height="1.45"/>
<rect x="354.20" y="484.84" width="3.15" height="1.45"/>
<rect x="358.15" y="484.84" width="2.7" height="1.45"/>
<rect x="344.9" y="487.25" width="8.6" height="1.45"/>
<rect x="354.20" y="487.25" width="2.10" height="1.45"/>
<rect x="344.9" y="489.66" width="8.6" height="1.45"/>
<rect x="354.20" y="489.66" width="4.20" height="1.45"/>
<rect x="359.20" y="489.66" width="2.7" height="1.45"/>
<rect x="344.9" y="492.07" width="8.6" height="1.45"/>
<rect x="354.20" y="492.07" width="4.20" height="1.45"/>
<rect x="359.20" y="492.07" width="2.7" height="1.45"/>
<rect x="344.9" y="494.48" width="8.6" height="1.45"/>
<rect x="354.20" y="494.48" width="2.10" height="1.45"/>
<rect x="357.10" y="494.48" width="2.7" height="1.45"/>
<rect x="344.9" y="496.89" width="8.6" height="1.45"/>
<rect x="354.20" y="496.89" width="3.15" height="1.45"/>
<rect x="358.15" y="496.89" width="2.7" height="1.45"/>
<rect x="344.9" y="499.31" width="8.6" height="1.45"/>
<rect x="354.20" y="499.31" width="3.15" height="1.45"/>
<rect x="358.15" y="499.31" width="2.7" height="1.45"/>
<rect x="344.9" y="501.72" width="8.6" height="1.45"/>
<rect x="354.20" y="501.72" width="2.10" height="1.45"/>
<rect x="357.10" y="501.72" width="2.7" height="1.45"/>
<rect x="344.9" y="504.13" width="8.6" height="1.45"/>
<rect x="354.20" y="504.13" width="2.10" height="1.45"/>
<rect x="344.9" y="506.54" width="8.6" height="1.45"/>
<rect x="354.20" y="506.54" width="4.20" height="1.45"/>
<rect x="359.20" y="506.54" width="2.7" height="1.45"/>
<rect x="344.9" y="508.95" width="8.6" height="1.45"/>
<rect x="354.20" y="508.95" width="2.10" height="1.45"/>
<rect x="357.10" y="508.95" width="2.7" height="1.45"/>
<rect x="344.9" y="511.36" width="8.6" height="1.45"/>
<rect x="354.20" y="511.36" width="3.15" height="1.45"/>
<rect x="358.15" y="511.36" width="2.7" height="1.45"/>
<rect x="344.9" y="513.77" width="8.6" height="1.45"/>
<rect x="354.20" y="513.77" width="4.20" height="1.45"/>
<rect x="359.20" y="513.77" width="2.7" height="1.45"/>
<rect x="344.9" y="516.18" width="8.6" height="1.45"/>
<rect x="354.20" y="516.18" width="3.15" height="1.45"/>
<rect x="358.15" y="516.18" width="2.7" height="1.45"/>
<rect x="344.9" y="518.59" width="8.6" height="1.45"/>
<rect x="354.20" y="518.59" width="4.20" height="1.45"/>
</g>
<g font-family="Liberation Sans, sans-serif" font-size="5.8" fill="#111" stroke="#111" stroke-width="0.15">
<text transform="translate(160.2,538.9) rotate(-90)">[C-1]</text>
<text transform="translate(280.3,541.1) rotate(-90)">[24-1]</text>
</g>
<defs><linearGradient id="ck" x1="0" x2="1" y1="0" y2="0"><stop offset="0" stop-color="#00ff00"/><stop offset="0.5" stop-color="#000"/><stop offset="1" stop-color="#ff0000"/></linearGradient></defs>
<rect x="24" y="14.1" width="68.5" height="49.4" fill="url(#ck)"/>
<polyline points="24.20,58.90 24.70,59.98 26.32,61.06 27.94,61.60 30.10,57.82 32.80,51.34 34.42,52.10 36.04,54.58 38.20,58.90 40.36,57.82 42.52,55.12 44.14,54.04 45.22,56.20 46.84,57.06 49.00,58.14 51.16,59.44 53.32,60.52 55.48,59.44 57.64,58.36 59.80,57.82 61.96,57.28 63.58,56.74 64.66,57.82 66.28,58.57" stroke="#2cc0c0" stroke-width="0.8" fill="none"/>
<polyline points="66.28,58.57 67.36,59.98 69.52,61.06 71.68,62.14 73.84,60.52 76.00,59.65 78.16,61.60 80.32,62.14 82.48,61.60 84.63,60.52 86.79,59.65 88.41,58.57 89.49,60.52 90.57,58.36" stroke="#9aa8a8" stroke-width="0.8" fill="none"/>
<path d="M91.3 63.5V33.2" stroke="#b8a8a8" stroke-width="0.8" fill="none"/>
<path d="M24 63.5V67.2M37.7 63.5V67.2M51.4 63.5V67.2M65.1 63.5V67.2M78.8 63.5V67.2M92.5 63.5V67.2M24 63.5H92.5" stroke="#333" stroke-width="0.7" fill="none"/>
<path d="M20.8 64.00H24M20.8 55.12H24M20.8 46.24H24M20.8 37.36H24M20.8 28.48H24M20.8 19.60H24" stroke="#333" stroke-width="0.7" fill="none"/>
<g font-family="Liberation Sans, sans-serif" fill="#111" stroke="#111" stroke-width="0.18">
<text x="58" y="6.2" font-size="6.4" font-weight="bold" text-anchor="middle">Color Key</text>
<text x="58.2" y="13.7" font-size="6.35" font-weight="bold" text-anchor="middle">and Histogram</text>
<text x="24.0" y="76" font-size="6" text-anchor="middle">-3</text>
<text x="37.7" y="76" font-size="6" text-anchor="middle">-2</text>
<text x="51.4" y="76" font-size="6" text-anchor="middle">-1</text>
<text x="65.1" y="76" font-size="6" text-anchor="middle">0</text>
<text x="78.8" y="76" font-size="6" text-anchor="middle">1</text>
<text x="92.5" y="76" font-size="6" text-anchor="middle">2</text>
<text x="58.1" y="84.8" font-size="7.1" text-anchor="middle">Value</text>
<text transform="translate(13.7,39.6) rotate(-90)" font-size="7.8" text-anchor="middle">Count</text>
<text transform="translate(16.6,64.0) rotate(-90)" font-size="5.3" text-anchor="middle">0</text>
<text transform="translate(16.6,46.3) rotate(-90)" font-size="5.3" text-anchor="middle">20</text>
<text transform="translate(16.6,28.3) rotate(-90)" font-size="5.3" text-anchor="middle">40</text>
</g>
<polyline points="423.5,198.8 548.9,195.82 673.3,164.08" stroke="#e08fb0" stroke-width="0.75" fill="none" opacity="0.8"/>
<polyline points="423.5,198.8 548.9,206.15 673.3,154.60" stroke="#5a4ea0" stroke-width="0.75" fill="none" opacity="0.8"/>
<polyline points="423.5,198.8 548.9,207.50 673.3,172.57" stroke="#5a2a4a" stroke-width="0.75" fill="none" opacity="0.8"/>
<polyline points="423.5,198.8 548.9,206.04 673.3,152.85" stroke="#d4b040" stroke-width="0.75" fill="none" opacity="0.8"/>
<polyline points="423.5,198.8 548.9,205.65 673.3,143.51" stroke="#6fb0b3" stroke-width="0.75" fill="none" opacity="0.8"/>
<polyline points="423.5,198.8 548.9,206.88 673.3,171.26" stroke="#4fb8b8" stroke-width="0.75" fill="none" opacity="0.8"/>
<polyline points="423.5,198.8 548.9,210.45 673.3,168.75" stroke="#4a5a2a" stroke-width="0.75" fill="none" opacity="0.8"/>
<polyline points="423.5,198.8 548.9,193.71 673.3,171.32" stroke="#8b3a3a" stroke-width="0.75" fill="none" opacity="0.8"/>
<polyline points="423.5,198.8 548.9,204.85 673.3,166.97" stroke="#5cb85c" stroke-width="0.75" fill="none" opacity="0.8"/>
<polyline points="423.5,198.8 548.9,195.33 673.3,165.11" stroke="#7a4a1a" stroke-width="0.75" fill="none" opacity="0.8"/>
<polyline points="423.5,198.8 548.9,193.88 673.3,130.89" stroke="#c49a9a" stroke-width="0.75" fill="none" opacity="0.8"/>
<polyline points="423.5,198.8 548.9,201.87 673.3,146.93" stroke="#b8a040" stroke-width="0.75" fill="none" opacity="0.8"/>
<polyline points="423.5,198.8 548.9,199.56 673.3,171.06" stroke="#5a3a2a" stroke-width="0.75" fill="none" opacity="0.8"/>
<polyline points="423.5,198.8 548.9,205.03 673.3,168.50" stroke="#8b3a3a" stroke-width="0.75" fill="none" opacity="0.8"/>
<polyline points="423.5,198.8 548.9,194.97 673.3,166.82" stroke="#9a6a2a" stroke-width="0.75" fill="none" opacity="0.8"/>
<polyline points="423.5,198.8 548.9,196.94 673.3,157.29" stroke="#5cb85c" stroke-width="0.75" fill="none" opacity="0.8"/>
<polyline points="423.5,198.8 548.9,196.73 673.3,172.66" stroke="#40c8cc" stroke-width="0.75" fill="none" opacity="0.8"/>
<polyline points="423.5,198.8 548.9,206.18 673.3,147.00" stroke="#d19a5a" stroke-width="0.75" fill="none" opacity="0.8"/>
<polyline points="423.5,198.8 548.9,199.73 673.3,147.65" stroke="#8a6fd6" stroke-width="0.75" fill="none" opacity="0.8"/>
<polyline points="423.5,198.8 548.9,188.14 673.3,169.04" stroke="#a0663a" stroke-width="0.75" fill="none" opacity="0.8"/>
<polyline points="423.5,198.8 548.9,194.97 673.3,157.54" stroke="#9fe0cc" stroke-width="0.75" fill="none" opacity="0.8"/>
<polyline points="423.5,198.8 548.9,199.13 673.3,165.49" stroke="#9b2d2d" stroke-width="0.75" fill="none" opacity="0.8"/>
<polyline points="423.5,198.8 548.9,205.30 673.3,168.77" stroke="#6fb0b3" stroke-width="0.75" fill="none" opacity="0.8"/>
<polyline points="423.5,198.8 548.9,190.57 673.3,167.22" stroke="#9a6a2a" stroke-width="0.75" fill="none" opacity="0.8"/>
<polyline points="423.5,198.8 548.9,206.26 673.3,171.08" stroke="#40c8cc" stroke-width="0.75" fill="none" opacity="0.8"/>
<polyline points="423.5,198.8 548.9,204.01 673.3,157.39" stroke="#3d9970" stroke-width="0.75" fill="none" opacity="0.8"/>
<polyline points="423.5,198.8 548.9,196.38 673.3,145.09" stroke="#5a4ea0" stroke-width="0.75" fill="none" opacity="0.8"/>
<polyline points="423.5,198.8 548.9,200.03 673.3,160.81" stroke="#b8a040" stroke-width="0.75" fill="none" opacity="0.8"/>
<polyline points="423.5,198.8 548.9,207.82 673.3,169.96" stroke="#d19a5a" stroke-width="0.75" fill="none" opacity="0.8"/>
<polyline points="423.5,198.8 548.9,212.19 673.3,166.78" stroke="#9fe0cc" stroke-width="0.75" fill="none" opacity="0.8"/>
<polyline points="423.5,198.8 548.9,201.18 673.3,133.85" stroke="#7a9a40" stroke-width="0.75" fill="none" opacity="0.8"/>
<polyline points="423.5,198.8 548.9,199.41 673.3,135.95" stroke="#6a5acd" stroke-width="0.75" fill="none" opacity="0.8"/>
<polyline points="423.5,198.8 548.9,199.47 673.3,169.80" stroke="#8a3a8a" stroke-width="0.75" fill="none" opacity="0.8"/>
<polyline points="423.5,198.8 548.9,203.01 673.3,167.83" stroke="#a8b8e8" stroke-width="0.75" fill="none" opacity="0.8"/>
<polyline points="423.5,198.8 548.9,199.41 673.3,173.08" stroke="#9a6a2a" stroke-width="0.75" fill="none" opacity="0.8"/>
<polyline points="423.5,198.8 548.9,200.51 673.3,157.65" stroke="#90c090" stroke-width="0.75" fill="none" opacity="0.8"/>
<polyline points="423.5,198.8 548.9,200.68 673.3,173.07" stroke="#5b7fd6" stroke-width="0.75" fill="none" opacity="0.8"/>
<polyline points="423.5,198.8 548.9,196.69 673.3,170.99" stroke="#a8b8e8" stroke-width="0.75" fill="none" opacity="0.8"/>
<polyline points="423.5,198.8 548.9,203.86 673.3,136.98" stroke="#c0508a" stroke-width="0.75" fill="none" opacity="0.8"/>
<polyline points="423.5,198.8 548.9,196.90 673.3,153.80" stroke="#5a8fc0" stroke-width="0.75" fill="none" opacity="0.8"/>
<polyline points="423.5,198.8 548.9,195.60 673.3,126.31" stroke="#6a5acd" stroke-width="0.75" fill="none" opacity="0.8"/>
<polyline points="423.5,198.8 548.9,196.14 673.3,130.04" stroke="#483d8b" stroke-width="0.75" fill="none" opacity="0.8"/>
<polyline points="423.5,198.8 548.9,188.14 673.3,146.83" stroke="#88dddd" stroke-width="0.75" fill="none" opacity="0.8"/>
<polyline points="423.5,198.8 548.9,213.46 673.3,173.48" stroke="#66bb66" stroke-width="0.75" fill="none" opacity="0.8"/>
<path d="M423.5 118.85V278.75M423.5 198.8H672.9M416.1 278.75H423.5M416.1 252.10H423.5M416.1 225.45H423.5M416.1 198.80H423.5M416.1 172.15H423.5M416.1 145.50H423.5M416.1 118.85H423.5" stroke="#7a7a7a" stroke-width="1.05" fill="none"/>
<path d="M548.9 195.5V203.60000000000002" stroke="#444" stroke-width="0.6" fill="none"/>
<path d="M673.3 195.3V201.4q0 1 1.4 1.8" stroke="#444" stroke-width="0.6" fill="none"/>
<g font-family="Liberation Sans, sans-serif" fill="#222" font-weight="bold" font-size="4.1">
<text x="419.5" y="277.55" text-anchor="middle">-3</text>
<text x="419.5" y="250.90" text-anchor="middle">-2</text>
<text x="419.5" y="224.25" text-anchor="middle">-1</text>
<text x="419.5" y="197.60" text-anchor="middle">0</text>
<text x="419.5" y="170.95" text-anchor="middle">1</text>
<text x="419.5" y="144.30" text-anchor="middle">2</text>
<text x="419.5" y="117.65" text-anchor="middle">3</text>
<text x="424.8" y="116.65" font-size="5.2" font-weight="bold" textLength="37.2" lengthAdjust="spacingAndGlyphs">Expression Change</text>
<text x="424.8" y="121.15" font-size="3.9" font-weight="bold" textLength="18.5" lengthAdjust="spacingAndGlyphs">(v(t)−v(0))</text>
<text x="425.3" y="205.60" font-size="4.6" textLength="6.4" lengthAdjust="spacingAndGlyphs">C-1</text>
<text x="674.5999999999999" y="196.80" font-size="3.8" font-weight="bold" textLength="7.9" lengthAdjust="spacingAndGlyphs">TIME</text>
<text x="673.9" y="205.50" font-size="3.8" font-weight="bold" textLength="8" lengthAdjust="spacingAndGlyphs">24-1</text>
</g>
<polyline points="421.0,421.9 547.4,420.32 670.9,460.71" stroke="#d4b040" stroke-width="0.75" fill="none" opacity="0.8"/>
<polyline points="421.0,421.9 547.4,421.83 670.9,448.58" stroke="#d19a5a" stroke-width="0.75" fill="none" opacity="0.8"/>
<polyline points="421.0,421.9 547.4,421.70 670.9,438.67" stroke="#5b7fd6" stroke-width="0.75" fill="none" opacity="0.8"/>
<polyline points="421.0,421.9 547.4,417.53 670.9,431.20" stroke="#9fe0cc" stroke-width="0.75" fill="none" opacity="0.8"/>
<polyline points="421.0,421.9 547.4,417.99 670.9,478.89" stroke="#5a8fc0" stroke-width="0.75" fill="none" opacity="0.8"/>
<polyline points="421.0,421.9 547.4,420.26 670.9,441.71" stroke="#4fb8b8" stroke-width="0.75" fill="none" opacity="0.8"/>
<polyline points="421.0,421.9 547.4,420.82 670.9,471.00" stroke="#e08fb0" stroke-width="0.75" fill="none" opacity="0.8"/>
<polyline points="421.0,421.9 547.4,420.14 670.9,468.10" stroke="#66c2a5" stroke-width="0.75" fill="none" opacity="0.8"/>
<polyline points="421.0,421.9 547.4,419.79 670.9,439.99" stroke="#6a5acd" stroke-width="0.75" fill="none" opacity="0.8"/>
<polyline points="421.0,421.9 547.4,418.88 670.9,442.30" stroke="#2a2a3a" stroke-width="0.75" fill="none" opacity="0.8"/>
<polyline points="421.0,421.9 547.4,420.49 670.9,476.56" stroke="#b07cd0" stroke-width="0.75" fill="none" opacity="0.8"/>
<polyline points="421.0,421.9 547.4,421.71 670.9,437.49" stroke="#2a2a3a" stroke-width="0.75" fill="none" opacity="0.8"/>
<polyline points="421.0,421.9 547.4,420.70 670.9,480.06" stroke="#c04040" stroke-width="0.75" fill="none" opacity="0.8"/>
<polyline points="421.0,421.9 547.4,421.13 670.9,434.36" stroke="#d19a5a" stroke-width="0.75" fill="none" opacity="0.8"/>
<polyline points="421.0,421.9 547.4,423.01 670.9,431.75" stroke="#66c2a5" stroke-width="0.75" fill="none" opacity="0.8"/>
<polyline points="421.0,421.9 547.4,416.47 670.9,431.73" stroke="#a8b8e8" stroke-width="0.75" fill="none" opacity="0.8"/>
<polyline points="421.0,421.9 547.4,423.14 670.9,457.36" stroke="#c49a9a" stroke-width="0.75" fill="none" opacity="0.8"/>
<polyline points="421.0,421.9 547.4,420.87 670.9,435.72" stroke="#5a4ea0" stroke-width="0.75" fill="none" opacity="0.8"/>
<polyline points="421.0,421.9 547.4,421.49 670.9,433.41" stroke="#8a6fd6" stroke-width="0.75" fill="none" opacity="0.8"/>
<polyline points="421.0,421.9 547.4,419.65 670.9,432.09" stroke="#6a1a3a" stroke-width="0.75" fill="none" opacity="0.8"/>
<polyline points="421.0,421.9 547.4,424.31 670.9,453.35" stroke="#9fe0cc" stroke-width="0.75" fill="none" opacity="0.8"/>
<polyline points="421.0,421.9 547.4,417.60 670.9,438.59" stroke="#c49a9a" stroke-width="0.75" fill="none" opacity="0.8"/>
<polyline points="421.0,421.9 547.4,420.74 670.9,449.10" stroke="#4fb8b8" stroke-width="0.75" fill="none" opacity="0.8"/>
<polyline points="421.0,421.9 547.4,417.57 670.9,459.18" stroke="#b8a040" stroke-width="0.75" fill="none" opacity="0.8"/>
<polyline points="421.0,421.9 547.4,424.81 670.9,468.58" stroke="#7a9a40" stroke-width="0.75" fill="none" opacity="0.8"/>
<polyline points="421.0,421.9 547.4,416.84 670.9,439.34" stroke="#5a4ea0" stroke-width="0.75" fill="none" opacity="0.8"/>
<polyline points="421.0,421.9 547.4,418.04 670.9,450.46" stroke="#8a6fd6" stroke-width="0.75" fill="none" opacity="0.8"/>
<polyline points="421.0,421.9 547.4,418.72 670.9,433.94" stroke="#3a2a5a" stroke-width="0.75" fill="none" opacity="0.8"/>
<polyline points="421.0,421.9 547.4,424.31 670.9,451.72" stroke="#90c090" stroke-width="0.75" fill="none" opacity="0.8"/>
<polyline points="421.0,421.9 547.4,417.41 670.9,457.82" stroke="#9acd32" stroke-width="0.75" fill="none" opacity="0.8"/>
<polyline points="421.0,421.9 547.4,417.53 670.9,454.06" stroke="#8ecae6" stroke-width="0.75" fill="none" opacity="0.8"/>
<polyline points="421.0,421.9 547.4,421.87 670.9,440.26" stroke="#3a2a5a" stroke-width="0.75" fill="none" opacity="0.8"/>
<polyline points="421.0,421.9 547.4,422.37 670.9,470.23" stroke="#4fb8b8" stroke-width="0.75" fill="none" opacity="0.8"/>
<polyline points="421.0,421.9 547.4,417.81 670.9,433.28" stroke="#3d9970" stroke-width="0.75" fill="none" opacity="0.8"/>
<polyline points="421.0,421.9 547.4,420.91 670.9,455.46" stroke="#d4b040" stroke-width="0.75" fill="none" opacity="0.8"/>
<polyline points="421.0,421.9 547.4,417.27 670.9,455.78" stroke="#5a4ea0" stroke-width="0.75" fill="none" opacity="0.8"/>
<polyline points="421.0,421.9 547.4,424.58 670.9,442.70" stroke="#9b2d2d" stroke-width="0.75" fill="none" opacity="0.8"/>
<polyline points="421.0,421.9 547.4,418.56 670.9,450.67" stroke="#a8b8e8" stroke-width="0.75" fill="none" opacity="0.8"/>
<polyline points="421.0,421.9 547.4,419.65 670.9,435.90" stroke="#c8d878" stroke-width="0.75" fill="none" opacity="0.8"/>
<polyline points="421.0,421.9 547.4,421.86 670.9,463.05" stroke="#6b7a40" stroke-width="0.75" fill="none" opacity="0.8"/>
<polyline points="421.0,421.9 547.4,417.96 670.9,454.35" stroke="#a0663a" stroke-width="0.75" fill="none" opacity="0.8"/>
<polyline points="421.0,421.9 547.4,417.51 670.9,447.18" stroke="#b07cd0" stroke-width="0.75" fill="none" opacity="0.8"/>
<polyline points="421.0,421.9 547.4,420.12 670.9,463.32" stroke="#40c8cc" stroke-width="0.75" fill="none" opacity="0.8"/>
<polyline points="421.0,421.9 547.4,424.71 670.9,450.74" stroke="#d19a5a" stroke-width="0.75" fill="none" opacity="0.8"/>
<polyline points="421.0,421.9 547.4,421.38 670.9,460.28" stroke="#e08fb0" stroke-width="0.75" fill="none" opacity="0.8"/>
<polyline points="421.0,421.9 547.4,416.11 670.9,435.42" stroke="#c49a9a" stroke-width="0.75" fill="none" opacity="0.8"/>
<polyline points="421.0,421.9 547.4,422.17 670.9,461.74" stroke="#9b59b6" stroke-width="0.75" fill="none" opacity="0.8"/>
<polyline points="421.0,421.9 547.4,424.73 670.9,441.06" stroke="#6a5acd" stroke-width="0.75" fill="none" opacity="0.8"/>
<polyline points="421.0,421.9 547.4,424.32 670.9,454.33" stroke="#5b7fd6" stroke-width="0.75" fill="none" opacity="0.8"/>
<polyline points="421.0,421.9 547.4,418.33 670.9,433.87" stroke="#3d9970" stroke-width="0.75" fill="none" opacity="0.8"/>
<polyline points="421.0,421.9 547.4,420.43 670.9,443.93" stroke="#e08fb0" stroke-width="0.75" fill="none" opacity="0.8"/>
<polyline points="421.0,421.9 547.4,418.86 670.9,444.83" stroke="#5b7fd6" stroke-width="0.75" fill="none" opacity="0.8"/>
<polyline points="421.0,421.9 547.4,419.33 670.9,459.59" stroke="#9fe0cc" stroke-width="0.75" fill="none" opacity="0.8"/>
<polyline points="421.0,421.9 547.4,422.56 670.9,440.63" stroke="#2a2a3a" stroke-width="0.75" fill="none" opacity="0.8"/>
<polyline points="421.0,421.9 547.4,421.08 670.9,436.51" stroke="#6a1a3a" stroke-width="0.75" fill="none" opacity="0.8"/>
<polyline points="421.0,421.9 547.4,423.22 670.9,432.07" stroke="#c8d878" stroke-width="0.75" fill="none" opacity="0.8"/>
<polyline points="421.0,421.9 547.4,421.45 670.9,432.56" stroke="#9acd32" stroke-width="0.75" fill="none" opacity="0.8"/>
<polyline points="421.0,421.9 547.4,416.98 670.9,434.12" stroke="#8a3a8a" stroke-width="0.75" fill="none" opacity="0.8"/>
<polyline points="421.0,421.9 547.4,422.89 670.9,436.49" stroke="#2a2a3a" stroke-width="0.75" fill="none" opacity="0.8"/>
<polyline points="421.0,421.9 547.4,424.20 670.9,450.10" stroke="#9acd32" stroke-width="0.75" fill="none" opacity="0.8"/>
<polyline points="421.0,421.9 547.4,418.79 670.9,449.73" stroke="#c0508a" stroke-width="0.75" fill="none" opacity="0.8"/>
<polyline points="421.0,421.9 547.4,420.04 670.9,452.66" stroke="#a0663a" stroke-width="0.75" fill="none" opacity="0.8"/>
<polyline points="421.0,421.9 547.4,421.60 670.9,441.71" stroke="#a0663a" stroke-width="0.75" fill="none" opacity="0.8"/>
<polyline points="421.0,421.9 547.4,421.97 670.9,451.59" stroke="#40c8cc" stroke-width="0.75" fill="none" opacity="0.8"/>
<polyline points="421.0,421.9 547.4,423.05 670.9,451.57" stroke="#c0508a" stroke-width="0.75" fill="none" opacity="0.8"/>
<polyline points="421.0,421.9 547.4,420.24 670.9,444.44" stroke="#c0508a" stroke-width="0.75" fill="none" opacity="0.8"/>
<polyline points="421.0,421.9 547.4,421.01 670.9,450.19" stroke="#d19a5a" stroke-width="0.75" fill="none" opacity="0.8"/>
<polyline points="421.0,421.9 547.4,423.33 670.9,431.78" stroke="#3a3a7a" stroke-width="0.75" fill="none" opacity="0.8"/>
<polyline points="421.0,421.9 547.4,426.21 670.9,439.40" stroke="#c04040" stroke-width="0.75" fill="none" opacity="0.8"/>
<polyline points="421.0,421.9 547.4,421.34 670.9,457.13" stroke="#c8d878" stroke-width="0.75" fill="none" opacity="0.8"/>
<polyline points="421.0,421.9 547.4,421.00 670.9,457.70" stroke="#9acd32" stroke-width="0.75" fill="none" opacity="0.8"/>
<polyline points="421.0,421.9 547.4,419.64 670.9,455.03" stroke="#9acd32" stroke-width="0.75" fill="none" opacity="0.8"/>
<polyline points="421.0,421.9 547.4,424.61 670.9,433.39" stroke="#b8a040" stroke-width="0.75" fill="none" opacity="0.8"/>
<polyline points="421.0,421.9 547.4,418.67 670.9,435.87" stroke="#e08fb0" stroke-width="0.75" fill="none" opacity="0.8"/>
<polyline points="421.0,421.9 547.4,419.12 670.9,433.27" stroke="#6a1a3a" stroke-width="0.75" fill="none" opacity="0.8"/>
<polyline points="421.0,421.9 547.4,422.71 670.9,468.75" stroke="#5a4ea0" stroke-width="0.75" fill="none" opacity="0.8"/>
<polyline points="421.0,421.9 547.4,421.98 670.9,441.91" stroke="#6fb0b3" stroke-width="0.75" fill="none" opacity="0.8"/>
<polyline points="421.0,421.9 547.4,417.96 670.9,443.42" stroke="#e08fb0" stroke-width="0.75" fill="none" opacity="0.8"/>
<polyline points="421.0,421.9 547.4,420.35 670.9,443.05" stroke="#c8d878" stroke-width="0.75" fill="none" opacity="0.8"/>
<polyline points="421.0,421.9 547.4,424.70 670.9,438.57" stroke="#3a3a7a" stroke-width="0.75" fill="none" opacity="0.8"/>
<polyline points="421.0,421.9 547.4,415.13 670.9,440.80" stroke="#9acd32" stroke-width="0.75" fill="none" opacity="0.8"/>
<polyline points="421.0,421.9 547.4,423.71 670.9,481.20" stroke="#b8a040" stroke-width="0.75" fill="none" opacity="0.8"/>
<polyline points="421.0,421.9 547.4,420.31 670.9,432.19" stroke="#b07cd0" stroke-width="0.75" fill="none" opacity="0.8"/>
<polyline points="421.0,421.9 547.4,421.12 670.9,431.36" stroke="#2a2a3a" stroke-width="0.75" fill="none" opacity="0.8"/>
<polyline points="421.0,421.9 547.4,418.59 670.9,444.79" stroke="#5b7fd6" stroke-width="0.75" fill="none" opacity="0.8"/>
<polyline points="421.0,421.9 547.4,423.63 670.9,452.78" stroke="#90c090" stroke-width="0.75" fill="none" opacity="0.8"/>
<polyline points="421.0,421.9 547.4,419.22 670.9,472.13" stroke="#b07cd0" stroke-width="0.75" fill="none" opacity="0.8"/>
<polyline points="421.0,421.9 547.4,420.16 670.9,432.44" stroke="#5b7fd6" stroke-width="0.75" fill="none" opacity="0.8"/>
<polyline points="421.0,421.9 547.4,423.17 670.9,465.54" stroke="#4fb8b8" stroke-width="0.75" fill="none" opacity="0.8"/>
<polyline points="421.0,421.9 547.4,418.96 670.9,436.15" stroke="#6a1a3a" stroke-width="0.75" fill="none" opacity="0.8"/>
<polyline points="421.0,421.9 547.4,431.80 670.9,499.78" stroke="#d4b030" stroke-width="0.75" fill="none" opacity="0.8"/>
<polyline points="421.0,421.9 547.4,431.40 670.9,481.30" stroke="#a0522d" stroke-width="0.75" fill="none" opacity="0.8"/>
<polyline points="421.0,421.9 547.4,413.98 670.9,441.70" stroke="#88dd88" stroke-width="0.75" fill="none" opacity="0.8"/>
<path d="M421.0 342.70V501.10M421.0 421.9H670.5M413.6 501.10H421.0M413.6 487.90H421.0M413.6 474.70H421.0M413.6 461.50H421.0M413.6 448.30H421.0M413.6 435.10H421.0M413.6 421.90H421.0M413.6 408.70H421.0M413.6 395.50H421.0M413.6 382.30H421.0M413.6 369.10H421.0M413.6 355.90H421.0M413.6 342.70H421.0" stroke="#7a7a7a" stroke-width="1.05" fill="none"/>
<text x="545.8" y="428.5" font-family="Liberation Sans, sans-serif" font-size="3.6" font-weight="bold" fill="#444">C</text>
<path d="M670.9 418.4V424.5q0 1 1.4 1.8" stroke="#444" stroke-width="0.6" fill="none"/>
<g font-family="Liberation Sans, sans-serif" fill="#222" font-weight="bold" font-size="4.1">
<text x="417.0" y="499.90" text-anchor="middle">-6</text>
<text x="417.0" y="486.70" text-anchor="middle">-5</text>
<text x="417.0" y="473.50" text-anchor="middle">-4</text>
<text x="417.0" y="460.30" text-anchor="middle">-3</text>
<text x="417.0" y="447.10" text-anchor="middle">-2</text>
<text x="417.0" y="433.90" text-anchor="middle">-1</text>
<text x="417.0" y="420.70" text-anchor="middle">0</text>
<text x="417.0" y="407.50" text-anchor="middle">1</text>
<text x="417.0" y="394.30" text-anchor="middle">2</text>
<text x="417.0" y="381.10" text-anchor="middle">3</text>
<text x="417.0" y="367.90" text-anchor="middle">4</text>
<text x="417.0" y="354.70" text-anchor="middle">5</text>
<text x="417.0" y="341.50" text-anchor="middle">6</text>
<text x="422.3" y="340.50" font-size="5.2" font-weight="bold" textLength="37.2" lengthAdjust="spacingAndGlyphs">Expression Change</text>
<text x="422.3" y="345.00" font-size="3.9" font-weight="bold" textLength="18.5" lengthAdjust="spacingAndGlyphs">(v(t)−v(0))</text>
<text x="422.8" y="428.70" font-size="4.6" textLength="6.4" lengthAdjust="spacingAndGlyphs">C-1</text>
<text x="672.1999999999999" y="419.90" font-size="3.8" font-weight="bold" textLength="7.9" lengthAdjust="spacingAndGlyphs">TIME</text>
<text x="671.5" y="428.60" font-size="3.8" font-weight="bold" textLength="8" lengthAdjust="spacingAndGlyphs">24-1</text>
</g>
</svg></body></html>
